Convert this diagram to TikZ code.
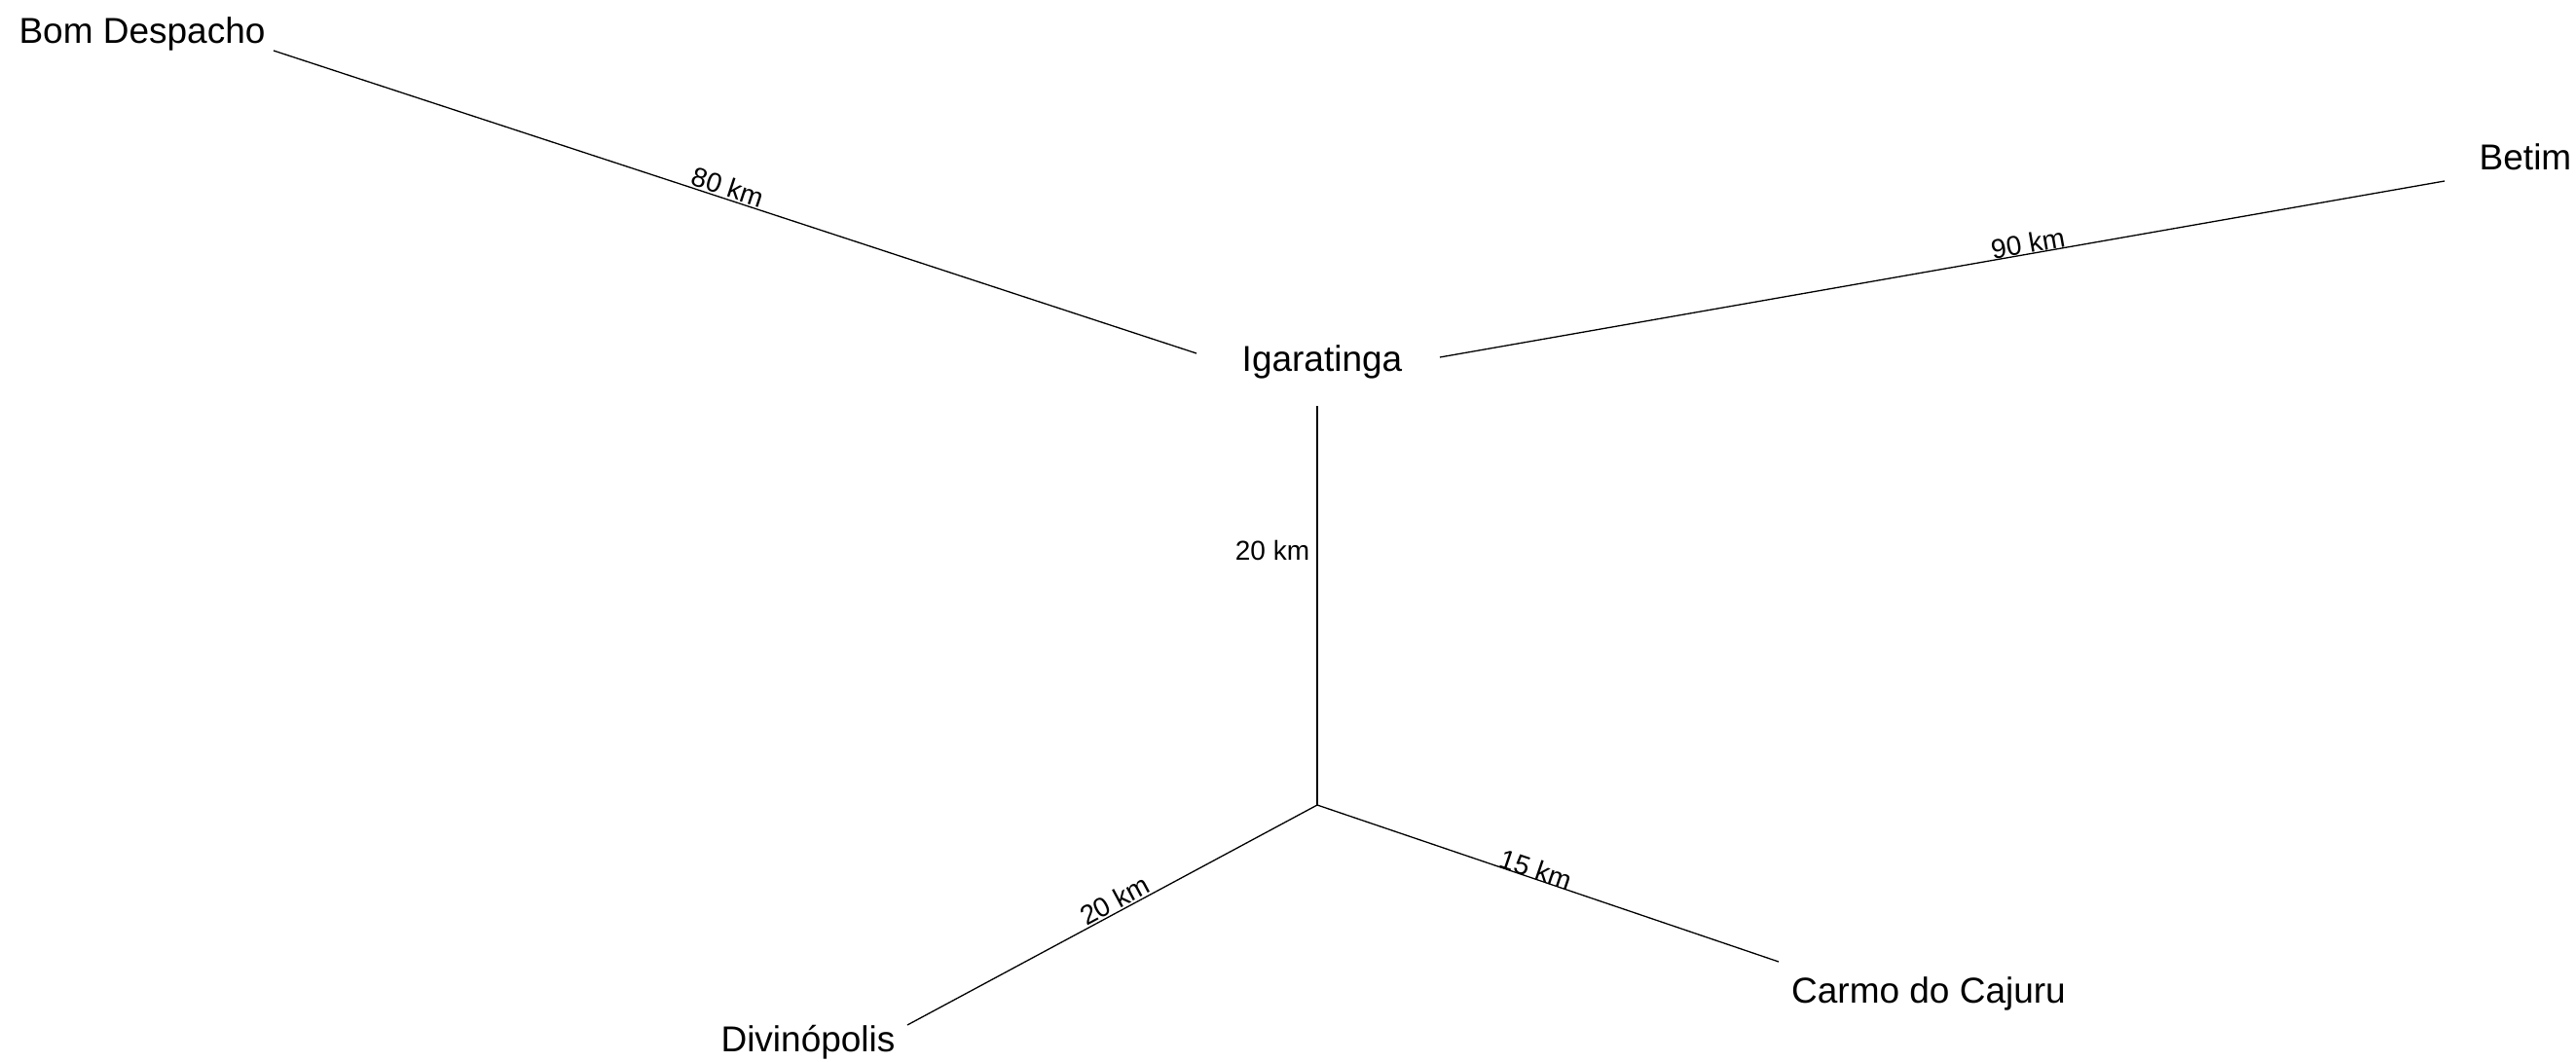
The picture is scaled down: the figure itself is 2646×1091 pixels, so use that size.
\documentclass[tikz,border=0pt]{standalone}
\usepackage{fontspec}
\setmainfont{Liberation Sans}
\begin{document}
\begin{tikzpicture}[x=1pt,y=-1pt,
  city/.style={anchor=base,inner sep=0pt,font=\fontsize{37}{44}\selectfont},
  dist/.style={inner sep=0pt,font=\fontsize{28}{34}\selectfont},
  road/.style={line width=1.3pt,black}]
\useasboundingbox[fill=white] (0,0) rectangle (2646,1091);
% city names
\node[city] (bd) at (146,45) {Bom Despacho};
\node[city] (ig) at (1358,381) {Igaratinga};
\node[city] (be) at (2594,175) {Betim};
\node[city] (di) at (830,1080) {Divinópolis};
\node[city] (cc) at (1981,1030) {Carmo do Cajuru};
% connector ends
\coordinate (bdE) at (281,52);
\coordinate (igW) at (1229,363);
\coordinate (igE) at (1479,367);
\coordinate (igS) at (1353,417);
\coordinate (beW) at (2511,186);
\coordinate (jn) at (1353,827);
\coordinate (diE) at (932,1053);
\coordinate (ccW) at (1827,988);
% roads
\draw[road] (bdE) -- (igW);
\draw[road] (igE) -- (beW);
\draw[road] (igS) -- (jn);
\draw[road] (jn) -- (diE);
\draw[road] (jn) -- (ccW);
% distance labels
\node[dist,rotate=-18.2] (l1) at (748,192) {80 km};
\node[dist,rotate=9.95] (l2) at (2083,250) {90 km};
\node[dist,anchor=base] (l3) at (1307,575) {20 km};
\node[dist,rotate=28.2] (l4) at (1145,925) {20 km};
\node[dist,rotate=-18.8] (l5) at (1578,893) {15 km};
\end{tikzpicture}
\end{document}
